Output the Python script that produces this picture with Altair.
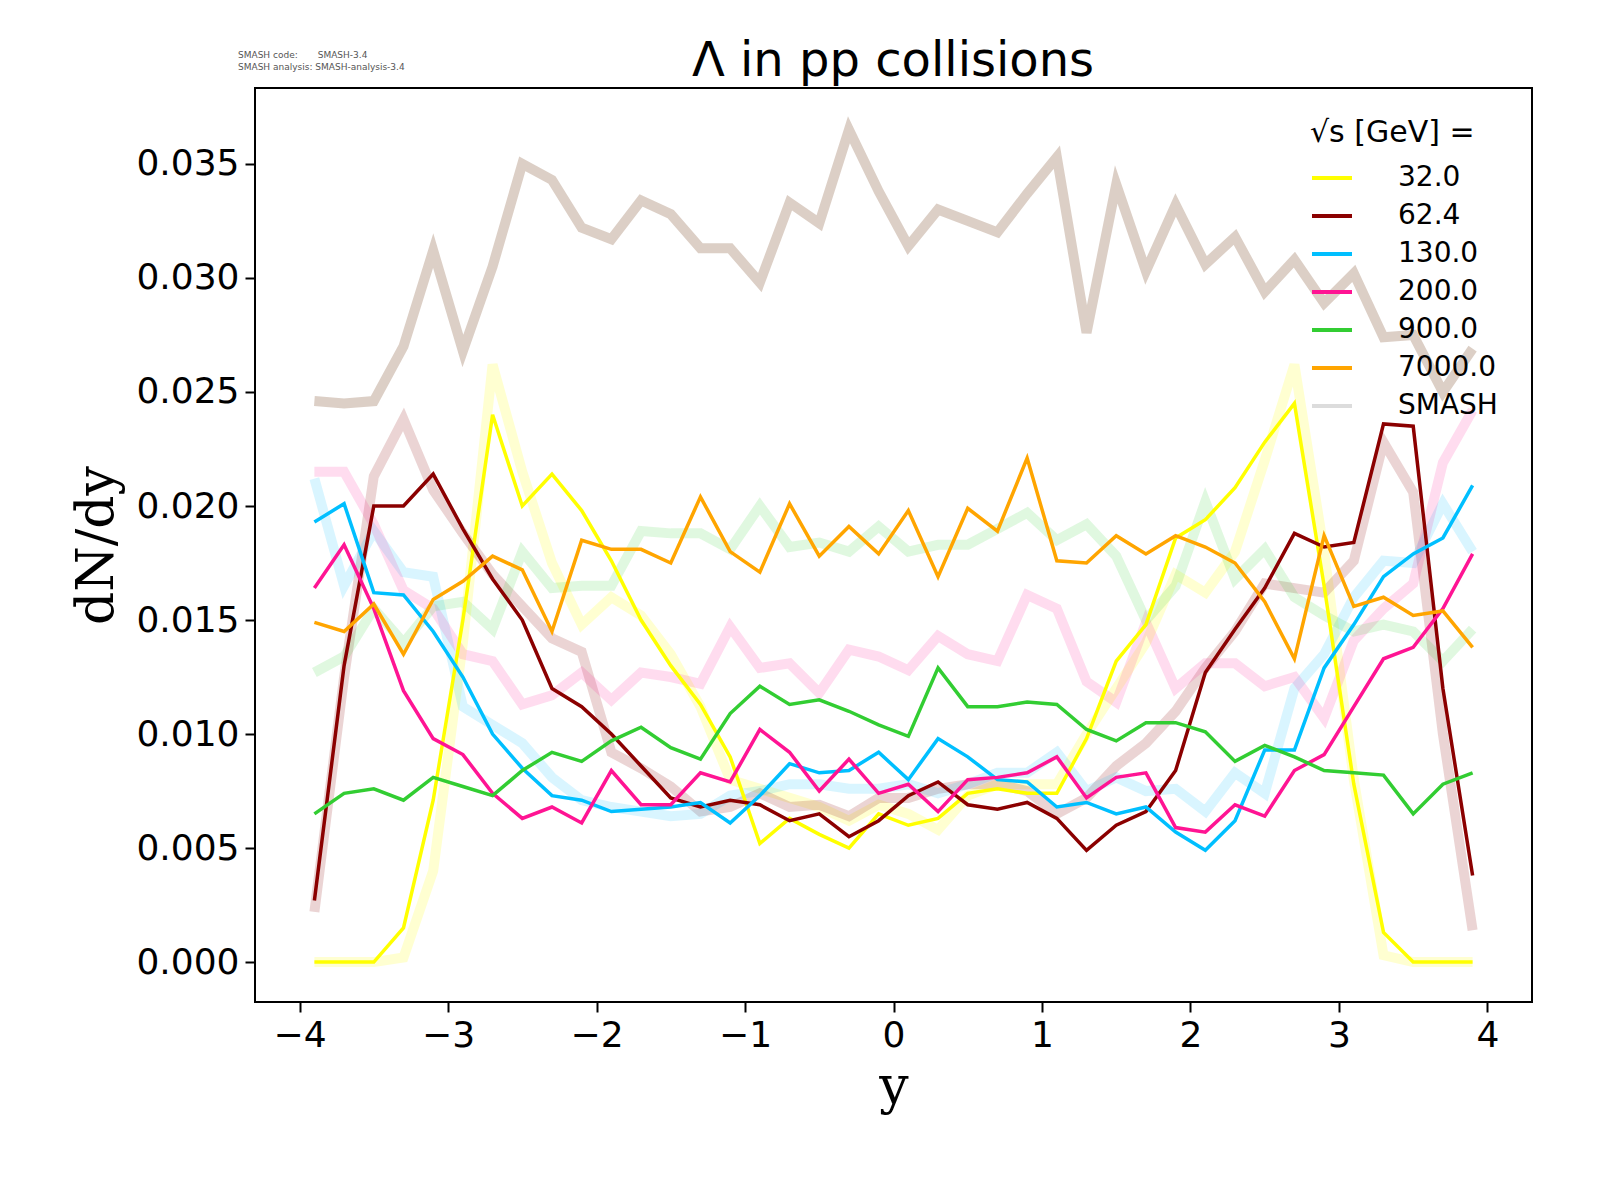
import altair as alt
import pandas as pd

y_bins = [round(-3.9 + 0.2 * i, 1) for i in range(40)]

labels = ["32.0", "62.4", "130.0", "200.0", "900.0", "7000.0"]
colors = ["#ffff00", "#8b0000", "#00bfff", "#ff1493", "#32cd32", "#ffa500"]
smash_colors = ["rgba(255,255,0,0.18)", "rgba(139,0,0,0.17)", "rgba(0,191,255,0.15)",
                "rgba(255,20,147,0.15)", "rgba(50,205,50,0.15)", "rgba(115,63,27,0.25)"]

# measured dN/dy (x 1e-3)
data_32 = [0, 0, 0, 1.5, 7.1, 15.0, 24.0, 20.0, 21.4, 19.8, 17.6, 15.0, 13.0, 11.3, 9.0, 5.2, 6.3, 5.6, 5.0, 6.5,
           6.0, 6.3, 7.4, 7.6, 7.4, 7.4, 9.8, 13.2, 14.8, 18.6, 19.4, 20.8, 22.8, 24.5, 16.5, 7.8, 1.3, 0, 0, 0]
data_62 = [2.7, 13.0, 20.0, 20.0, 21.4, 19.0, 16.8, 15.0, 12.0, 11.2, 10.0, 8.6, 7.2, 6.8, 7.1, 6.9, 6.2, 6.5, 5.5, 6.2,
           7.3, 7.9, 6.9, 6.7, 7.0, 6.3, 4.9, 6.0, 6.6, 8.4, 12.7, 14.6, 16.4, 18.8, 18.2, 18.4, 23.6, 23.5, 12.0, 3.8]
data_130 = [19.3, 20.1, 16.2, 16.1, 14.5, 12.5, 10.0, 8.5, 7.3, 7.1, 6.6, 6.7, 6.8, 7.0, 6.1, 7.3, 8.7, 8.3, 8.4, 9.2,
            8.0, 9.8, 9.0, 8.0, 7.9, 6.8, 7.0, 6.5, 6.8, 5.7, 4.9, 6.2, 9.3, 9.3, 12.9, 14.8, 16.9, 17.9, 18.6, 20.9]
data_200 = [16.4, 18.3, 15.5, 11.9, 9.8, 9.1, 7.4, 6.3, 6.8, 6.1, 8.4, 6.9, 6.9, 8.3, 7.9, 10.2, 9.2, 7.5, 8.9, 7.4,
            7.8, 6.6, 8.0, 8.1, 8.3, 9.0, 7.2, 8.1, 8.3, 5.9, 5.7, 6.9, 6.4, 8.4, 9.1, 11.2, 13.3, 13.8, 15.5, 17.9]
data_900 = [6.5, 7.4, 7.6, 7.1, 8.1, 7.7, 7.3, 8.4, 9.2, 8.8, 9.7, 10.3, 9.4, 8.9, 10.9, 12.1, 11.3, 11.5, 11.0, 10.4,
            9.9, 12.9, 11.2, 11.2, 11.4, 11.3, 10.2, 9.7, 10.5, 10.5, 10.1, 8.8, 9.5, 9.0, 8.4, 8.3, 8.2, 6.5, 7.8, 8.3]
data_7000 = [14.9, 14.5, 15.7, 13.5, 15.9, 16.7, 17.8, 17.2, 14.5, 18.5, 18.1, 18.1, 17.5, 20.4, 18.0, 17.1, 20.1, 17.8,
             19.1, 17.9, 19.8, 16.9, 19.9, 18.9, 22.1, 17.6, 17.5, 18.7, 17.9, 18.7, 18.2, 17.5, 15.8, 13.3, 18.7, 15.6,
             16.0, 15.2, 15.4, 13.8]

# SMASH dN/dy (x 1e-3)
smash_32 = [0, 0, 0, 0.2, 4.0, 14.0, 26.2, 21.5, 17.5, 14.8, 16.0, 15.2, 13.5, 11.2, 8.0, 7.6, 7.2, 6.8, 6.2, 6.9,
            6.5, 5.8, 7.3, 7.8, 7.8, 7.8, 10.0, 12.0, 14.0, 17.0, 16.2, 18.0, 22.0, 26.2, 18.0, 8.0, 0.3, 0, 0, 0]
smash_62 = [2.2, 12.5, 21.3, 23.8, 20.7, 18.8, 17.0, 15.6, 14.2, 13.6, 9.2, 8.5, 7.7, 6.6, 6.8, 7.4, 6.8, 6.9, 6.4, 7.2,
            7.2, 7.6, 7.8, 7.8, 7.5, 6.5, 7.2, 8.6, 9.6, 11.0, 12.9, 14.5, 16.6, 16.4, 16.2, 17.6, 22.8, 20.6, 10.0, 1.4]
smash_130 = [21.2, 16.5, 18.9, 17.1, 16.9, 11.2, 10.4, 9.6, 8.1, 7.1, 6.8, 6.6, 6.4, 6.5, 7.3, 7.5, 7.8, 7.8, 7.6, 7.6,
             7.8, 7.4, 7.8, 8.3, 8.3, 9.2, 7.5, 8.1, 7.5, 7.6, 6.6, 8.3, 7.4, 12.0, 13.5, 16.0, 17.6, 17.5, 20.1, 18.0]
smash_200 = [21.5, 21.5, 19.2, 16.3, 15.5, 13.5, 13.2, 11.3, 11.7, 12.7, 11.5, 12.7, 12.5, 12.2, 14.7, 12.9, 13.1, 11.8,
             13.7, 13.4, 12.8, 14.3, 13.5, 13.2, 16.1, 15.5, 12.3, 11.4, 14.9, 12.0, 13.1, 13.1, 12.1, 12.5, 10.7, 14.1,
             15.5, 16.6, 21.9, 24.2]
smash_900 = [12.7, 13.4, 15.5, 14.0, 15.6, 15.8, 14.6, 18.0, 16.4, 16.5, 16.5, 18.9, 18.8, 18.8, 18.1, 20.0, 18.2, 18.4,
             18.0, 19.1, 18.0, 18.3, 18.3, 19.0, 19.7, 18.5, 19.2, 17.8, 15.0, 16.5, 20.2, 16.8, 18.1, 16.0, 15.2, 14.5,
             14.8, 14.5, 13.2, 14.6]
smash_7000 = [24.6, 24.5, 24.6, 27.0, 31.2, 26.8, 30.5, 35.0, 34.3, 32.2, 31.7, 33.4, 32.8, 31.3, 31.3, 29.8, 33.3, 32.4,
              36.5, 33.8, 31.4, 33.0, 32.5, 32.0, 33.7, 35.3, 27.6, 34.1, 30.3, 33.2, 30.6, 31.8, 29.4, 30.8, 28.9, 30.2,
              27.4, 27.5, 25.0, 26.9]

measured = [data_32, data_62, data_130, data_200, data_900, data_7000]
smash = [smash_32, smash_62, smash_130, smash_200, smash_900, smash_7000]

rows = []
for lab, d, s in zip(labels, measured, smash):
    for i, yb in enumerate(y_bins):
        rows.append({"y": yb, "series": lab, "kind": "data", "dndy": d[i] / 1000})
        rows.append({"y": yb, "series": lab, "kind": "smash", "dndy": s[i] / 1000})
df = pd.DataFrame(rows)

x_enc = alt.X("y:Q", scale=alt.Scale(domain=[-4.3, 4.3], nice=False, zero=False),
              axis=alt.Axis(values=[-4, -3, -2, -1, 0, 1, 2, 3, 4], title="y", format="d",
                            titleFont="DejaVu Serif", titleFontSize=52, titleFontWeight="normal",
                            titlePadding=8))
y_enc = alt.Y("dndy:Q", scale=alt.Scale(domain=[-0.00175, 0.03833], nice=False, zero=False),
              axis=alt.Axis(values=[0, 0.005, 0.01, 0.015, 0.02, 0.025, 0.03, 0.035], format=".3f",
                            title="dN/dy", titleFont="DejaVu Serif", titleFontSize=52,
                            titleFontWeight="normal", titlePadding=12))

smash_lines = alt.Chart(df).transform_filter(alt.datum.kind == "smash").mark_line(
    strokeWidth=10, strokeJoin="miter"
).encode(
    x=x_enc, y=y_enc,
    color=alt.Color("series:N", scale=alt.Scale(domain=labels, range=smash_colors), legend=None),
)

data_lines = alt.Chart(df).transform_filter(alt.datum.kind == "data").mark_line(
    strokeWidth=3.5, strokeJoin="miter"
).encode(
    x=x_enc, y=y_enc,
    color=alt.Color("series:N",
                    scale=alt.Scale(domain=labels + ["SMASH"], range=colors + ["#dcdcdc"]),
                    legend=alt.Legend(title="√s  [GeV] =", orient="none", legendX=1055, legendY=30,
                                      symbolType="stroke", symbolSize=1600, symbolStrokeWidth=4,
                                      titleFontSize=30, titleFontWeight="normal", labelFontSize=28,
                                      titlePadding=8, rowPadding=2, labelOffset=44,
                                      titleFont="DejaVu Sans", labelFont="DejaVu Sans")),
)

nb = "\u00a0"
info1 = alt.Chart(pd.DataFrame({"t": ["SMASH code:" + nb * 7 + "SMASH-3.4"]})).mark_text(
    align="left", fontSize=9, color="#555555", font="DejaVu Sans"
).encode(x=alt.value(-17), y=alt.value(-33), text="t:N")
info2 = alt.Chart(pd.DataFrame({"t": ["SMASH analysis: SMASH-analysis-3.4"]})).mark_text(
    align="left", fontSize=9, color="#555555", font="DejaVu Sans"
).encode(x=alt.value(-17), y=alt.value(-21), text="t:N")
title = alt.Chart(pd.DataFrame({"t": ["Λ in pp collisions"]})).mark_text(
    align="center", baseline="alphabetic", fontSize=48, color="black", font="DejaVu Sans"
).encode(x=alt.value(638), y=alt.value(-12), text="t:N")

chart = alt.layer(smash_lines, data_lines, info1, info2, title).resolve_scale(color="independent").properties(
    width=1277, height=914,
    autosize=alt.AutoSizeParams(type="none"),
    padding={"left": 247, "top": 80, "right": 30, "bottom": 150},
).configure_view(stroke="black", strokeWidth=2).configure_axis(
    labelFontSize=36, labelFont="DejaVu Sans", labelColor="black", tickSize=10, tickWidth=2,
    tickColor="black", domain=False, grid=False, labelPadding=6, titleColor="black"
)

chart.save("out.html", embed_options={"renderer": "svg", "actions": False})
